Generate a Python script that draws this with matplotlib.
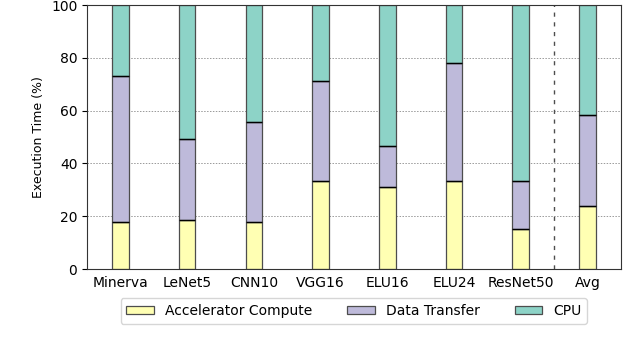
import matplotlib.pyplot as plt
import numpy as np

models = ['Minerva', 'LeNet5', 'CNN10', 'VGG16', 'ELU16', 'ELU24', 'ResNet50', 'Avg']
accel = [18.0, 18.4, 17.7, 33.3, 30.9, 33.2, 15.1, 23.8]
transfer = [55.1, 31.0, 38.0, 37.9, 15.9, 44.7, 18.3, 34.5]
cpu = [26.9, 50.6, 44.3, 28.8, 53.2, 22.1, 66.6, 41.7]

x = np.arange(len(models))
w = 0.25
accel = np.array(accel)
transfer = np.array(transfer)
cpu = np.array(cpu)

fig = plt.figure(figsize=(6.4, 3.44), dpi=100)
ax = fig.add_axes([0.136, 0.218, 0.834, 0.767])

ax.set_axisbelow(True)
ax.yaxis.grid(True, linestyle=(0, (1.5, 1.5)), color='0.6', linewidth=0.7)

ax.bar(x, accel, w, color='#ffffb3', edgecolor='0.3', linewidth=0.9, label='Accelerator Compute')
ax.bar(x, transfer, w, bottom=accel, color='#bebada', edgecolor='0.3', linewidth=0.9, label='Data Transfer')
ax.bar(x, cpu, w, bottom=accel + transfer, color='#8dd3c7', edgecolor='0.3', linewidth=0.9, label='CPU')

# black separators between segments
ax.hlines(accel, x - w / 2, x + w / 2, color='black', linewidth=1.0)
ax.hlines(accel + transfer, x - w / 2, x + w / 2, color='black', linewidth=1.0)

ax.axvline(6.5, color='0.3', linestyle=(0, (3, 4)), linewidth=1.0)

ax.set_xlim(-0.5, 7.5)
ax.set_ylim(0, 100)
ax.set_yticks([0, 20, 40, 60, 80, 100])
ax.set_xticks(x)
ax.set_xticklabels(models, fontsize=10)
ax.tick_params(axis='x', length=0, pad=5)
ax.tick_params(axis='y', labelsize=10, length=3.5)
ax.set_ylabel('Execution Time (%)', fontsize=9)
for s in ax.spines.values():
    s.set_color('0.2')

fig.legend(loc='center', bbox_to_anchor=(0.553, 0.096), ncol=3, fontsize=10,
           handlelength=2.0, handleheight=0.6, columnspacing=2.5, frameon=True,
           borderpad=0.4)

fig.savefig('out.png', dpi=100)
